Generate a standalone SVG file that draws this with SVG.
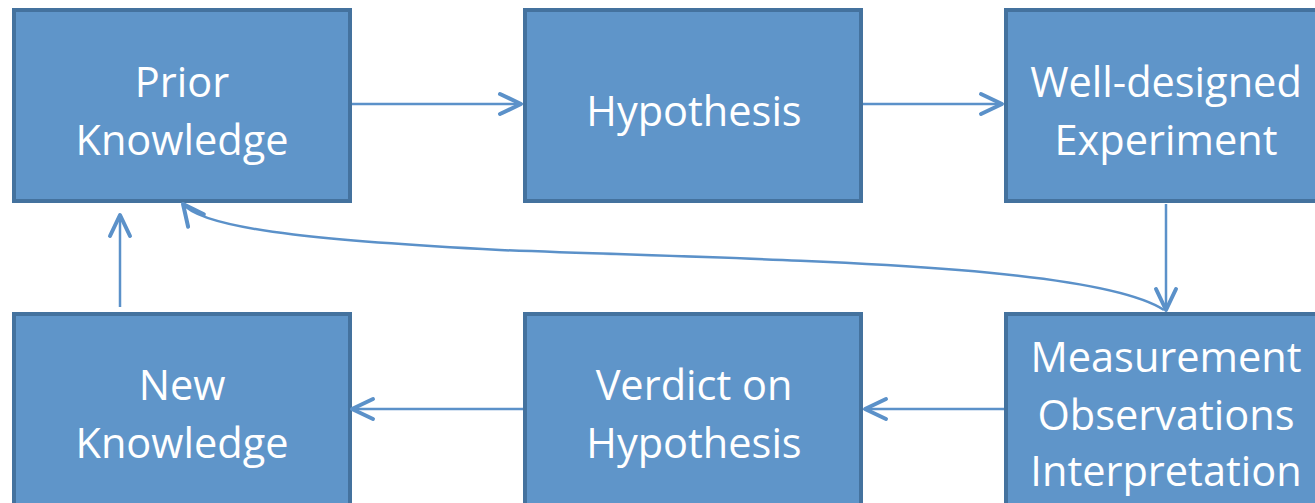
<svg xmlns="http://www.w3.org/2000/svg" width="1315" height="503" viewBox="0 0 1315 503">
<style>
.box{fill:#5f95c9;stroke:#44729e;stroke-width:4}
.t{fill:#ffffff;font-family:"Open Sans","Noto Sans","Liberation Sans",sans-serif;font-size:41.5px;text-anchor:middle}
.c{fill:none;stroke:#5b91c9;stroke-width:2.5}
</style>
<defs>
<marker id="ah" markerUnits="userSpaceOnUse" markerWidth="40" markerHeight="40" viewBox="-30 -20 40 40" refX="0" refY="0" orient="auto">
<path d="M-21,-10 L0,0 L-21,10" fill="none" stroke="#5b91c9" stroke-width="4" stroke-linecap="round" stroke-linejoin="round"/>
</marker>
</defs>
<rect width="1315" height="503" fill="#ffffff"/>
<g id="prior">
<rect class="box" x="14" y="10" width="336" height="191"/>
<text class="t" x="182" y="97">Prior</text>
<text class="t" x="182" y="155">Knowledge</text>
</g>
<g id="hypothesis">
<rect class="box" x="525" y="10" width="336" height="191"/>
<text class="t" x="694" y="126">Hypothesis</text>
</g>
<g id="experiment">
<rect class="box" x="1006" y="10" width="336" height="191"/>
<text class="t" x="1166" y="97">Well-designed</text>
<text class="t" x="1166" y="155">Experiment</text>
</g>
<g id="newknowledge">
<rect class="box" x="14" y="314" width="336" height="200"/>
<text class="t" x="182" y="400">New</text>
<text class="t" x="182" y="458">Knowledge</text>
</g>
<g id="verdict">
<rect class="box" x="525" y="314" width="336" height="200"/>
<text class="t" x="694" y="400">Verdict on</text>
<text class="t" x="694" y="458">Hypothesis</text>
</g>
<g id="measurement">
<rect class="box" x="1006" y="314" width="336" height="200"/>
<text class="t" x="1166" y="372">Measurement</text>
<text class="t" x="1166" y="430">Observations</text>
<text class="t" x="1166" y="486">Interpretation</text>
</g>
<g id="connectors">
<path class="c" d="M352,104 L521,104" marker-end="url(#ah)"/>
<path class="c" d="M863,104 L1002,104" marker-end="url(#ah)"/>
<path class="c" d="M1166,204 L1166,310" marker-end="url(#ah)"/>
<path class="c" d="M1004,409 L865,409" marker-end="url(#ah)"/>
<path class="c" d="M523,409 L352,409" marker-end="url(#ah)"/>
<path class="c" d="M120,307 L120,215" marker-end="url(#ah)"/>
<path class="c" d="M1164,310 C1090,262 750,260 500,250 C350,242 205,232 183,204" marker-end="url(#ah)"/>
</g>
</svg>
